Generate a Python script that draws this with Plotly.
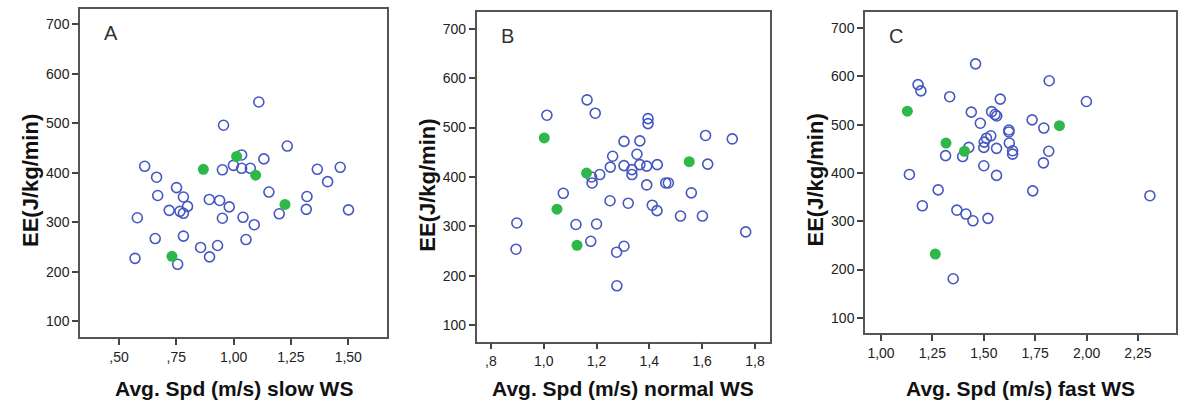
import plotly.graph_objects as go

# ---------------- data ----------------
a_blue_x = [1.110, 0.956, 1.234, 0.612, 0.664, 0.951, 0.999, 1.035, 1.035, 1.073, 1.132, 1.365, 1.465, 1.410,
            0.751, 1.154, 0.669, 0.781, 0.894, 0.939, 0.981, 0.799, 0.719, 0.766, 0.781, 1.320, 1.317, 1.501,
            1.199, 0.580, 0.951, 1.041, 1.090, 0.658, 0.781, 1.054, 0.856, 0.930, 0.570, 0.756, 0.895]
a_blue_y = [543, 496, 454, 413, 391, 406, 415, 436, 409, 409, 428, 407, 411, 382,
            370, 361, 354, 351, 346, 344, 331, 332, 324, 322, 318, 352, 326, 325,
            317, 309, 308, 310, 295, 267, 272, 265, 249, 253, 227, 215, 230]
a_green_x = [0.868, 1.013, 1.096, 1.224, 0.731]
a_green_y = [407, 433, 395, 336, 231]

b_blue_x = [1.164, 1.012, 1.195, 1.395, 1.395, 1.613, 1.714, 1.304, 1.364, 1.353, 1.261, 1.252, 1.304, 1.334,
            1.334, 1.364, 1.390, 1.430, 1.621, 1.181, 1.212, 1.183, 1.390, 1.462, 1.472, 1.074, 1.559, 1.251,
            1.320, 1.411, 1.429, 1.518, 1.601, 0.898, 1.122, 1.200, 1.765, 1.178, 0.895, 1.276, 1.304, 1.277]
b_blue_y = [556, 525, 529, 518, 508, 484, 477, 472, 473, 446, 442, 420, 423, 415,
            405, 425, 422, 425, 426, 400, 405, 388, 384, 388, 388, 367, 368, 352,
            347, 343, 332, 321, 321, 307, 304, 305, 289, 270, 254, 248, 260, 180]
b_green_x = [1.002, 1.551, 1.162, 1.050, 1.126]
b_green_y = [479, 431, 408, 335, 262]

c_blue_x = [1.460, 1.180, 1.194, 1.818, 1.334, 1.580, 1.999, 1.439, 1.538, 1.555, 1.563, 1.483, 1.735, 1.792,
            1.622, 1.622, 1.534, 1.513, 1.502, 1.500, 1.562, 1.624, 1.640, 1.640, 1.816, 1.790, 1.314, 1.397,
            1.427, 1.500, 1.562, 1.138, 1.278, 1.738, 1.201, 1.369, 1.413, 1.447, 1.520, 2.308, 1.351]
c_blue_y = [626, 583, 570, 591, 558, 553, 548, 526, 527, 521, 518, 503, 510, 493,
            489, 485, 477, 472, 464, 453, 451, 462, 446, 439, 445, 421, 436, 434,
            453, 415, 395, 397, 365, 363, 332, 323, 315, 301, 306, 353, 181]
c_green_x = [1.128, 1.868, 1.316, 1.406, 1.264]
c_green_y = [528, 498, 462, 445, 232]

a_ticks = [0.50, 0.75, 1.00, 1.25, 1.50]
a_ticktext = [",50", ",75", "1,00", "1,25", "1,50"]
b_ticks = [0.8, 1.0, 1.2, 1.4, 1.6, 1.8]
b_ticktext = [",8", "1,0", "1,2", "1,4", "1,6", "1,8"]
c_ticks = [1.00, 1.25, 1.50, 1.75, 2.00, 2.25]
c_ticktext = ["1,00", "1,25", "1,50", "1,75", "2,00", "2,25"]
y_ticks = [100, 200, 300, 400, 500, 600, 700]

panel_letters = ["A", "B", "C"]
x_titles = ["Avg. Spd (m/s) slow WS", "Avg. Spd (m/s) normal WS", "Avg. Spd (m/s) fast WS"]
y_title = "EE(J/kg/min)"

# ---------------- layout geometry ----------------
W, H = 1179, 403
boxes = [  # left, right, top, bottom in pixels
    (80, 387, 9, 337),
    (476.7, 770, 12.3, 341.7),
    (865, 1176, 11.7, 333.3),
]
x_ranges = [[0.330, 1.669], [0.746, 1.857], [0.922, 2.435]]
y_ranges = [[68, 731], [67, 733], [68, 734]]

FONT = "Liberation Sans, Arial, sans-serif"
BLUE = "#4557c0"
GREEN = "#2fb84a"

fig = go.Figure()
series = [
    (a_blue_x, a_blue_y, a_green_x, a_green_y),
    (b_blue_x, b_blue_y, b_green_x, b_green_y),
    (c_blue_x, c_blue_y, c_green_x, c_green_y),
]
for i, (bx, by, gx, gy) in enumerate(series):
    xa = "x" if i == 0 else f"x{i+1}"
    ya = "y" if i == 0 else f"y{i+1}"
    fig.add_trace(go.Scatter(x=bx, y=by, mode="markers", xaxis=xa, yaxis=ya,
                             marker=dict(symbol="circle-open", size=10, color=BLUE,
                                         line=dict(width=1.6, color=BLUE)),
                             showlegend=False, hoverinfo="skip"))
    fig.add_trace(go.Scatter(x=gx, y=gy, mode="markers", xaxis=xa, yaxis=ya,
                             marker=dict(symbol="circle", size=11, color=GREEN,
                                         line=dict(width=0)),
                             showlegend=False, hoverinfo="skip"))

ticks_all = [(a_ticks, a_ticktext), (b_ticks, b_ticktext), (c_ticks, c_ticktext)]
annotations = []
layout_axes = {}
for i, (l, r, t, b) in enumerate(boxes):
    sfx = "" if i == 0 else str(i + 1)
    tv, tt = ticks_all[i]
    layout_axes["xaxis" + sfx] = dict(
        domain=[l / W, r / W], range=x_ranges[i], anchor="y" + sfx,
        tickvals=tv, ticktext=tt, ticks="outside", ticklen=6, tickwidth=1.5,
        tickcolor="#444", showline=True, linecolor="#555", linewidth=1.5, mirror=True,
        showgrid=False, zeroline=False,
        tickfont=dict(family=FONT, size=14, color="#222"), fixedrange=True)
    layout_axes["yaxis" + sfx] = dict(
        domain=[(H - b) / H, (H - t) / H], range=y_ranges[i], anchor="x" + sfx,
        tickvals=y_ticks, ticks="outside", ticklen=6, tickwidth=1.5,
        tickcolor="#444", showline=True, linecolor="#555", linewidth=1.5, mirror=True,
        showgrid=False, zeroline=False,
        tickfont=dict(family=FONT, size=14, color="#222"), fixedrange=True)
    # panel letter
    annotations.append(dict(text=panel_letters[i], x=(l + 31) / W, y=(H - (t + 24)) / H,
                            xref="paper", yref="paper", showarrow=False,
                            xanchor="center", yanchor="middle",
                            font=dict(family=FONT, size=20, color="#333")))
    # x title
    annotations.append(dict(text="<b>" + x_titles[i] + "</b>", x=((l + r) / 2) / W, y=(H - 388) / H,
                            xref="paper", yref="paper", showarrow=False,
                            xanchor="center", yanchor="middle",
                            font=dict(family=FONT, size=21, color="#111")))
    # y title
    annotations.append(dict(text="<b>" + y_title + "</b>", x=(l - 50) / W, y=(H - ((t + b) / 2 + 8)) / H,
                            xref="paper", yref="paper", showarrow=False, textangle=-90,
                            xanchor="center", yanchor="middle",
                            font=dict(family=FONT, size=22, color="#111")))

fig.update_layout(width=W, height=H, margin=dict(l=0, r=0, t=0, b=0),
                  paper_bgcolor="white", plot_bgcolor="white",
                  annotations=annotations, **layout_axes)

fig.write_html("out.html", config={"displayModeBar": False})
